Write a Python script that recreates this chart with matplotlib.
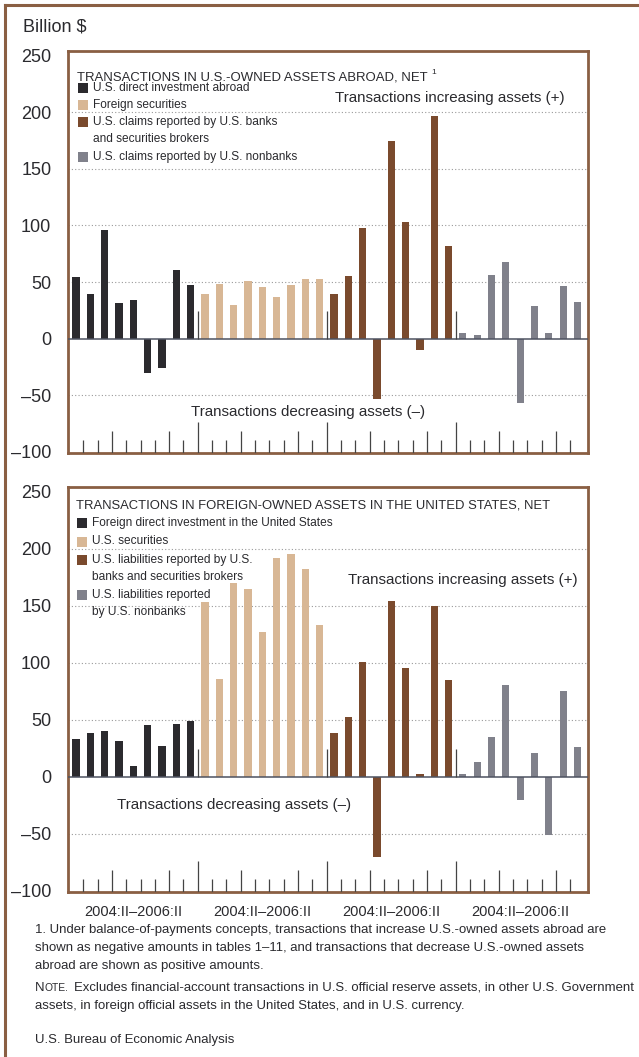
import matplotlib
matplotlib.use("Agg")
import matplotlib.pyplot as plt
from matplotlib.patches import Rectangle
from matplotlib.lines import Line2D

# ---------------- data ----------------
quarters = ["2004:II", "2004:III", "2004:IV", "2005:I", "2005:II",
            "2005:III", "2005:IV", "2006:I", "2006:II"]
group_label = "2004:II\u20132006:II"

top_series_names = ["U.S. direct investment abroad",
                    "Foreign securities",
                    "U.S. claims reported by U.S. banks\nand securities brokers",
                    "U.S. claims reported by U.S. nonbanks"]
top_direct = [54, 39.5, 96, 31.5, 34.5, -30, -25.5, 61, 47.5]
top_foreign_sec = [39, 48, 30, 50.5, 46, 36.5, 47, 53, 52.5]
top_banks = [39.5, 55.5, 98, -53.5, 174.5, 103, -10, 196.5, 81.5]
top_nonbanks = [5, 3, 56.5, 68, -57, 29, 5, 46.5, 32]

bot_series_names = ["Foreign direct investment in the United States",
                    "U.S. securities",
                    "U.S. liabilities reported by U.S.\nbanks and securities brokers",
                    "U.S. liabilities reported\nby U.S. nonbanks"]
bot_fdi = [33.5, 38, 40, 31.5, 9.5, 45.5, 27, 46, 49]
bot_ussec = [153.5, 85.5, 169.5, 165, 127, 192, 195, 182, 133]
bot_banks = [38, 52, 101, -70.5, 154, 95.5, 2.5, 150, 85]
bot_nonbanks = [2.5, 13, 35, 80.5, -20, 20.5, -51, 75.5, 26.5]

y_ticks = [-100, -50, 0, 50, 100, 150, 200, 250]
grid_vals = [-50, 50, 100, 150, 200]

top_title = "TRANSACTIONS IN U.S.-OWNED ASSETS ABROAD, NET"
bot_title = "TRANSACTIONS IN FOREIGN-OWNED ASSETS IN THE UNITED STATES, NET"

# ---------------- style ----------------
colors = ["#2b2a2e", "#d8b795", "#7a4a2d", "#80818b"]
BROWN = "#8a5f43"
TXT = "#2a2a2e"
REG = ["Liberation Sans", "DejaVu Sans"]

W, H = 639, 1057
fig = plt.figure(figsize=(W / 100, H / 100), dpi=100)
fig.patch.set_facecolor("white")
renderer = fig.canvas.get_renderer()


def fx(px):
    return px / W


def fy(py):
    return 1 - py / H


def size_for(s, target_w, base=12):
    t = fig.text(0, 0, s, fontsize=base, family=REG)
    w = t.get_window_extent(renderer).width
    t.remove()
    return base * target_w / w


def put(xpx, ypx, s, size, ha="left", **kw):
    return fig.text(fx(xpx), fy(ypx), s, fontsize=size, family=REG,
                    color=TXT, va="center", ha=ha, **kw)


def make_axes(top_px, bottom_px):
    left, right = 68, 588
    return fig.add_axes([fx(left), fy(bottom_px), (right - left) / W,
                         (bottom_px - top_px) / H])


def draw_panel(ax, series, show_xlabels):
    n = len(quarters)
    for g, vals in enumerate(series):
        xs = [g * n + i for i in range(n)]
        ax.bar(xs, vals, width=0.5, color=colors[g], zorder=3, linewidth=0)
    ax.set_xlim(-0.56, 35.73)
    ax.set_ylim(-101, 254)
    for v in grid_vals:
        ax.axhline(v, color="#9a9a9a", lw=0.8, ls=(0, (1, 2)), zorder=1)
    ax.axhline(0, color="#4d5260", lw=1.1, zorder=4)
    total = n * len(series)
    for k in range(total - 1):
        xpos = k + 0.5
        if (k + 1) % n == 0:
            ax.vlines(xpos, -101, -101 + 27, color="#444", lw=0.9, zorder=4)
            ax.vlines(xpos, 0, 24, color="#444", lw=0.9, zorder=4)
        elif quarters[(k + 1) % n].endswith(":I"):
            ax.vlines(xpos, -101, -101 + 19, color="#444", lw=0.9, zorder=4)
        else:
            ax.vlines(xpos, -101, -101 + 11.5, color="#444", lw=0.9, zorder=4)
    ax.set_yticks(y_ticks)
    ax.set_yticklabels([str(v).replace("-", "\u2013") for v in y_ticks],
                       fontsize=13, family=REG, color=TXT)
    ax.tick_params(axis="y", length=0, pad=12)
    centers = [g * n + (n - 1) / 2 for g in range(len(series))]
    ax.set_xticks(centers)
    if show_xlabels:
        ax.set_xticklabels([group_label] * len(series), fontsize=10.5,
                           family=REG, color=TXT)
    else:
        ax.set_xticklabels([])
    ax.tick_params(axis="x", length=0, pad=9)
    for s in ax.spines.values():
        s.set_color(BROWN)
        s.set_linewidth(2.0)
    ax.set_facecolor("white")


ax1 = make_axes(51, 453)
draw_panel(ax1, [top_direct, top_foreign_sec, top_banks, top_nonbanks], False)
ax2 = make_axes(487, 892)
draw_panel(ax2, [bot_fdi, bot_ussec, bot_banks, bot_nonbanks], True)


def legend(title, title_w, names, longest, longest_w, x_mark, x_text,
           y_title, ys):
    ts = size_for(title, title_w)
    t = put(x_mark - 1, y_title, title, ts, zorder=10)
    es = size_for(longest, longest_w)
    k = 0
    for i, name in enumerate(names):
        y0 = ys[k]
        fig.patches.append(Rectangle((fx(x_mark), fy(y0 + 5)), 10 / W, 10 / H,
                                     transform=fig.transFigure,
                                     facecolor=colors[i], edgecolor="none",
                                     zorder=10))
        for ln in name.split("\n"):
            put(x_text, ys[k], ln, es, zorder=10)
            k += 1
    return t


tt = legend(top_title, 348, top_series_names,
            "U.S. claims reported by U.S. nonbanks", 204, 78, 93, 77,
            [88, 105, 122, 139.5, 157])
bb = tt.get_window_extent(renderer)
fig.text(bb.x1 / W + 4 / W, fy(72), "1", fontsize=6, family=REG, color=TXT,
         va="center", ha="left")
legend(bot_title, 473, bot_series_names,
       "Foreign direct investment in the United States", 241, 77, 92, 505,
       [523, 541.5, 560, 577.5, 595, 612.5])

# annotations
asz = size_for("Transactions increasing assets (+)", 230)
put(450, 98, "Transactions increasing assets (+)", asz, ha="center")
put(308, 412, "Transactions decreasing assets (\u2013)", asz, ha="center")
put(463, 580, "Transactions increasing assets (+)", asz, ha="center")
put(234, 805, "Transactions decreasing assets (\u2013)", asz, ha="center")

put(23, 27, "Billion $", 13)

# footnotes
foot1 = ["1. Under balance-of-payments concepts, transactions that increase U.S.-owned assets abroad are",
         "shown as negative amounts in tables 1\u201311, and transactions that decrease U.S.-owned assets",
         "abroad are shown as positive amounts."]
fsz = size_for(foot1[0], 574)
for t, yy in zip(foot1, [930, 948, 966]):
    put(35, yy, t, fsz)

t1 = put(35, 988, "N", fsz)
b1 = t1.get_window_extent(renderer)
t2 = fig.text(b1.x1 / W, fy(988), "OTE.", fontsize=fsz * 0.78, family=REG,
              color=TXT, va="center", ha="left")
b2 = t2.get_window_extent(renderer)
fig.text(b2.x1 / W + 5 / W, fy(988),
         "Excludes financial-account transactions in U.S. official reserve assets, in other U.S. Government",
         fontsize=fsz, family=REG, color=TXT, va="center", ha="left")
put(35, 1006,
    "assets, in foreign official assets in the United States, and in U.S. currency.",
    fsz)
put(35, 1040, "U.S. Bureau of Economic Analysis", fsz)

# outer border (top and left)
fig.lines.append(Line2D([fx(5), 1], [fy(5), fy(5)], transform=fig.transFigure,
                        color=BROWN, lw=2.2))
fig.lines.append(Line2D([fx(5), fx(5)], [0, fy(5)], transform=fig.transFigure,
                        color=BROWN, lw=2.2))

fig.savefig("out.png", dpi=100, facecolor="white")
